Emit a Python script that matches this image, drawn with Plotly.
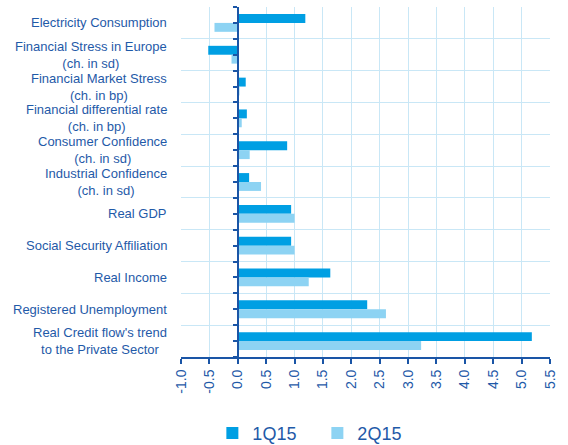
import plotly.graph_objects as go

categories = [
    "Electricity Consumption",
    "Financial Stress in Europe<br>(ch. in sd)",
    "Financial Market Stress<br>(ch. in bp)",
    "Financial differential rate<br>(ch. in bp)",
    "Consumer Confidence<br>(ch. in sd)",
    "Industrial Confidence<br>(ch. in sd)",
    "Real GDP",
    "Social Security Affiliation",
    "Real Income",
    "Registered Unemployment",
    "Real Credit flow's trend<br>to the Private Sector",
]
q1_values = [1.19, -0.52, 0.14, 0.16, 0.87, 0.20, 0.94, 0.94, 1.63, 2.28, 5.18]
q2_values = [-0.41, -0.11, 0.03, 0.07, 0.21, 0.41, 1.00, 1.00, 1.25, 2.61, 3.23]
series_names = ["1Q15", "2Q15"]
x_ticks = [-1.0 + 0.5 * i for i in range(14)]

TEXT = "#1f5aa8"
AXIS = "#1a55a6"
GRID = "#c9e7f6"
C1 = "#009fe3"
C2 = "#8dd3f3"

pos = list(range(len(categories)))
n = len(categories)
boundaries = [i - 0.5 for i in range(n + 1)]

fig = go.Figure()
fig.add_trace(go.Bar(y=pos, x=q1_values, orientation="h", name=series_names[0],
                     marker=dict(color=C1, line=dict(width=0))))
fig.add_trace(go.Bar(y=pos, x=q2_values, orientation="h", name=series_names[1],
                     marker=dict(color=C2, line=dict(width=0))))

xmin, xmax = -1.0, 5.5
zero_pos = (0 - xmin) / (xmax - xmin)

for p, c in zip(pos, categories):
    fig.add_annotation(x=0, xref="paper", xanchor="right", xshift=-12,
                       y=p, yref="y", text=c, showarrow=False, align="center",
                       font=dict(family="Liberation Sans, Arial", size=13, color=TEXT))

fig.update_layout(
    width=568, height=445,
    margin=dict(l=181, r=18, t=7, b=88, autoexpand=False),
    paper_bgcolor="white", plot_bgcolor="white",
    barmode="group", bargap=0.44, bargroupgap=0,
    font=dict(family="Liberation Sans, Arial", color=TEXT),
    xaxis=dict(range=[xmin, xmax], tickmode="array", tickvals=x_ticks,
               ticktext=[f"{v:.1f}" for v in x_ticks], tickangle=-90,
               tickfont=dict(size=14, color=TEXT),
               showgrid=True, gridcolor=GRID, gridwidth=1,
               zeroline=False, showline=True, linecolor=AXIS, linewidth=2,
               ticks="outside", ticklen=5, tickcolor=AXIS, tickwidth=2),
    yaxis=dict(range=[n - 0.5, -0.5], anchor="free", position=zero_pos,
               tickmode="array", tickvals=boundaries, showticklabels=False,
               showgrid=True, gridcolor=GRID, gridwidth=1,
               zeroline=False, showline=True, linecolor=AXIS, linewidth=2,
               ticks="outside", ticklen=4, tickcolor=AXIS, tickwidth=2,
               minor=dict(tickmode="array", tickvals=pos, ticks="outside",
                          ticklen=4, tickcolor=AXIS, tickwidth=2, showgrid=False)),
    legend=dict(orientation="h", x=0.085, xanchor="left", y=-0.218, yanchor="middle",
                font=dict(size=18, color=TEXT), entrywidth=60, traceorder="normal"),
    showlegend=True,
)

fig.write_html("out.html", config={"displayModeBar": False},
               post_script="document.body.style.margin='0';")
